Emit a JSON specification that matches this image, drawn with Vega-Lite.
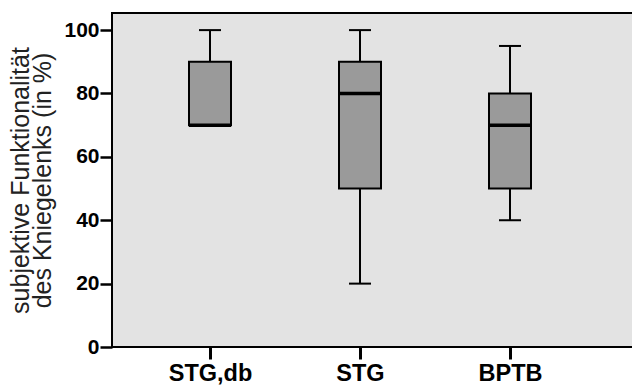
{
  "$schema": "https://vega.github.io/schema/vega-lite/v6.json",
  "autosize": {"type": "none"},
  "padding": {"left": 112, "top": 13, "right": 0, "bottom": 41},
  "width": 530,
  "height": 334,
  "background": "white",
  "config": {
    "view": {"fill": "#e3e3e3", "stroke": "black", "strokeWidth": 2},
    "font": "Liberation Sans"
  },
  "data": {
    "values": [
      {"gruppe": "STG,db", "min": 70, "q1": 70, "median": 70, "q3": 90, "max": 100},
      {"gruppe": "STG", "min": 20, "q1": 50, "median": 80, "q3": 90, "max": 100},
      {"gruppe": "BPTB", "min": 40, "q1": 50, "median": 70, "q3": 80, "max": 95}
    ]
  },
  "encoding": {
    "x": {
      "field": "gruppe",
      "type": "nominal",
      "sort": ["STG,db", "STG", "BPTB"],
      "scale": {"type": "point", "range": [98, 398], "padding": 0},
      "axis": {
        "title": null,
        "labelAngle": 0,
        "labelFont": "Liberation Sans",
        "labelFontSize": 23.5,
        "labelFontWeight": "bold",
        "labelColor": "black",
        "labelPadding": 2,
        "tickSize": 12,
        "tickWidth": 3,
        "tickColor": "black",
        "domain": false,
        "grid": false
      }
    }
  },
  "layer": [
    {
      "mark": {"type": "rule", "color": "black", "strokeWidth": 2},
      "encoding": {
        "y": {
          "field": "min",
          "type": "quantitative",
          "scale": {"domain": [0, 105.4], "nice": false, "zero": true},
          "axis": {
            "title": ["subjektive Funktionalität", "des Kniegelenks (in %)"],
            "titleFont": "Liberation Sans",
            "titleFontSize": 25,
            "titleFontWeight": "normal",
            "titleColor": "#222222",
            "titleLineHeight": 22,
            "titlePadding": 8,
            "values": [0, 20, 40, 60, 80, 100],
            "labelFont": "Liberation Sans",
            "labelFontSize": 21,
            "labelFontWeight": "bold",
            "labelColor": "black",
            "labelPadding": 1,
            "tickSize": 12,
            "tickWidth": 2.5,
            "tickColor": "black",
            "domain": false,
            "grid": false
          }
        },
        "y2": {"field": "max"}
      }
    },
    {
      "mark": {"type": "tick", "color": "black", "opacity": 1, "size": 22, "thickness": 2},
      "encoding": {"y": {"field": "min", "type": "quantitative"}}
    },
    {
      "mark": {"type": "tick", "color": "black", "opacity": 1, "size": 22, "thickness": 2},
      "encoding": {"y": {"field": "max", "type": "quantitative"}}
    },
    {
      "mark": {"type": "bar", "size": 42, "fill": "#9a9a9a", "opacity": 1, "stroke": "black", "strokeWidth": 2},
      "encoding": {
        "y": {"field": "q1", "type": "quantitative"},
        "y2": {"field": "q3"}
      }
    },
    {
      "mark": {"type": "tick", "color": "black", "opacity": 1, "size": 42, "thickness": 3.5},
      "encoding": {"y": {"field": "median", "type": "quantitative"}}
    }
  ]
}
